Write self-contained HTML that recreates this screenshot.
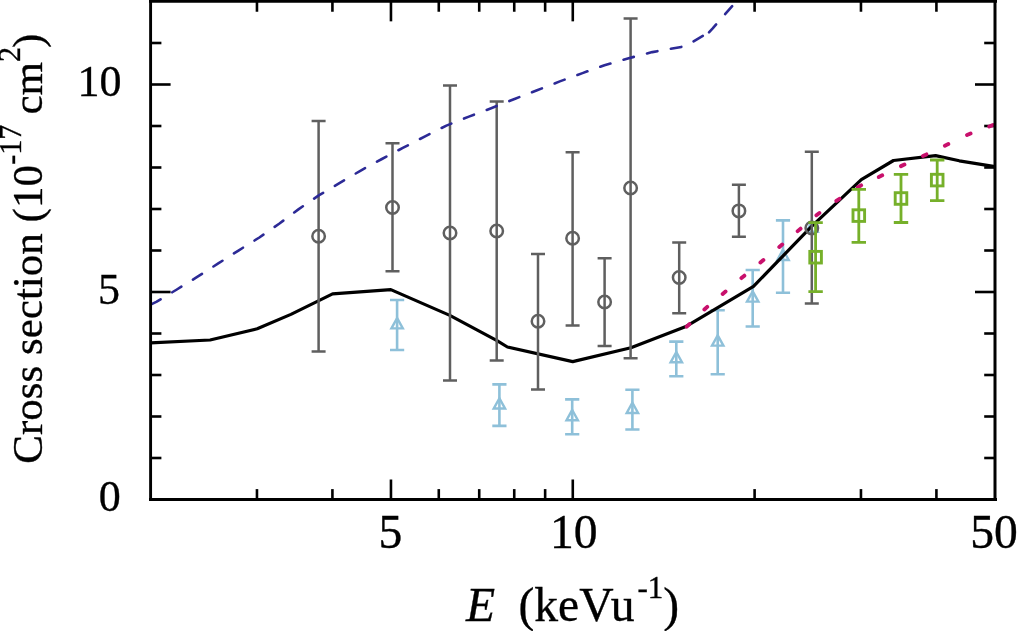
<!DOCTYPE html>
<html><head><meta charset="utf-8"><style>
html,body{margin:0;padding:0;background:#fff;width:1017px;height:631px;overflow:hidden;}
svg{display:block;will-change:transform;}
</style></head><body>
<svg width="1017" height="631" viewBox="0 0 1017 631">
<rect width="1017" height="631" fill="#fff"/>
<g stroke="#000" stroke-width="2.6" fill="none">
<line x1="150.6" y1="499.50" x2="170.6" y2="499.50"/>
<line x1="995" y1="499.50" x2="975" y2="499.50"/>
<line x1="150.6" y1="458.00" x2="161.4" y2="458.00"/>
<line x1="995" y1="458.00" x2="984.2" y2="458.00"/>
<line x1="150.6" y1="416.50" x2="161.4" y2="416.50"/>
<line x1="995" y1="416.50" x2="984.2" y2="416.50"/>
<line x1="150.6" y1="375.00" x2="161.4" y2="375.00"/>
<line x1="995" y1="375.00" x2="984.2" y2="375.00"/>
<line x1="150.6" y1="333.50" x2="161.4" y2="333.50"/>
<line x1="995" y1="333.50" x2="984.2" y2="333.50"/>
<line x1="150.6" y1="292.00" x2="170.6" y2="292.00"/>
<line x1="995" y1="292.00" x2="975" y2="292.00"/>
<line x1="150.6" y1="250.50" x2="161.4" y2="250.50"/>
<line x1="995" y1="250.50" x2="984.2" y2="250.50"/>
<line x1="150.6" y1="209.00" x2="161.4" y2="209.00"/>
<line x1="995" y1="209.00" x2="984.2" y2="209.00"/>
<line x1="150.6" y1="167.50" x2="161.4" y2="167.50"/>
<line x1="995" y1="167.50" x2="984.2" y2="167.50"/>
<line x1="150.6" y1="126.00" x2="161.4" y2="126.00"/>
<line x1="995" y1="126.00" x2="984.2" y2="126.00"/>
<line x1="150.6" y1="84.50" x2="170.6" y2="84.50"/>
<line x1="995" y1="84.50" x2="975" y2="84.50"/>
<line x1="150.6" y1="43.00" x2="161.4" y2="43.00"/>
<line x1="995" y1="43.00" x2="984.2" y2="43.00"/>
<line x1="256.96" y1="499.5" x2="256.96" y2="489.1"/>
<line x1="256.96" y1="1.35" x2="256.96" y2="11.75"/>
<line x1="332.42" y1="499.5" x2="332.42" y2="489.1"/>
<line x1="332.42" y1="1.35" x2="332.42" y2="11.75"/>
<line x1="390.96" y1="499.5" x2="390.96" y2="479.5"/>
<line x1="390.96" y1="1.35" x2="390.96" y2="21.35"/>
<line x1="438.78" y1="499.5" x2="438.78" y2="489.1"/>
<line x1="438.78" y1="1.35" x2="438.78" y2="11.75"/>
<line x1="479.22" y1="499.5" x2="479.22" y2="489.1"/>
<line x1="479.22" y1="1.35" x2="479.22" y2="11.75"/>
<line x1="514.24" y1="499.5" x2="514.24" y2="489.1"/>
<line x1="514.24" y1="1.35" x2="514.24" y2="11.75"/>
<line x1="545.14" y1="499.5" x2="545.14" y2="489.1"/>
<line x1="545.14" y1="1.35" x2="545.14" y2="11.75"/>
<line x1="572.78" y1="499.5" x2="572.78" y2="479.5"/>
<line x1="572.78" y1="1.35" x2="572.78" y2="21.35"/>
<line x1="754.60" y1="499.5" x2="754.60" y2="489.1"/>
<line x1="754.60" y1="1.35" x2="754.60" y2="11.75"/>
<line x1="860.96" y1="499.5" x2="860.96" y2="489.1"/>
<line x1="860.96" y1="1.35" x2="860.96" y2="11.75"/>
<line x1="936.42" y1="499.5" x2="936.42" y2="489.1"/>
<line x1="936.42" y1="1.35" x2="936.42" y2="11.75"/>
</g>
<path d="M397.1,300V350M390.00,300H404.20M390.00,350H404.20" stroke="#8ec0d9" stroke-width="2.6" fill="none"/>
<polygon points="397.1,318.10 391.40,328.40 402.80,328.40" fill="none" stroke="#8ec0d9" stroke-width="2.4"/>
<path d="M499.4,384.4V425.9M492.30,384.4H506.50M492.30,425.9H506.50" stroke="#8ec0d9" stroke-width="2.6" fill="none"/>
<polygon points="499.4,398.25 493.70,408.55 505.10,408.55" fill="none" stroke="#8ec0d9" stroke-width="2.4"/>
<path d="M572.2,399.4V434.2M565.10,399.4H579.30M565.10,434.2H579.30" stroke="#8ec0d9" stroke-width="2.6" fill="none"/>
<polygon points="572.2,409.90 566.50,420.20 577.90,420.20" fill="none" stroke="#8ec0d9" stroke-width="2.4"/>
<path d="M632.4,389.7V429.5M625.30,389.7H639.50M625.30,429.5H639.50" stroke="#8ec0d9" stroke-width="2.6" fill="none"/>
<polygon points="632.4,402.70 626.70,413.00 638.10,413.00" fill="none" stroke="#8ec0d9" stroke-width="2.4"/>
<path d="M676.3,341.6V376.2M669.20,341.6H683.40M669.20,376.2H683.40" stroke="#8ec0d9" stroke-width="2.6" fill="none"/>
<polygon points="676.3,352.00 670.60,362.30 682.00,362.30" fill="none" stroke="#8ec0d9" stroke-width="2.4"/>
<path d="M717.7,310.3V374.2M710.60,310.3H724.80M710.60,374.2H724.80" stroke="#8ec0d9" stroke-width="2.6" fill="none"/>
<polygon points="717.7,335.35 712.00,345.65 723.40,345.65" fill="none" stroke="#8ec0d9" stroke-width="2.4"/>
<path d="M752.7,270V326.5M745.60,270H759.80M745.60,326.5H759.80" stroke="#8ec0d9" stroke-width="2.6" fill="none"/>
<polygon points="752.7,291.35 747.00,301.65 758.40,301.65" fill="none" stroke="#8ec0d9" stroke-width="2.4"/>
<path d="M783,220.4V292.7M775.90,220.4H790.10M775.90,292.7H790.10" stroke="#8ec0d9" stroke-width="2.6" fill="none"/>
<polygon points="783,249.65 777.30,259.95 788.70,259.95" fill="none" stroke="#8ec0d9" stroke-width="2.4"/>
<polygon points="812,221.40 806.30,231.70 817.70,231.70" fill="none" stroke="#8ec0d9" stroke-width="2.4"/>
<polyline fill="none" stroke="#000" stroke-width="3.2" stroke-linejoin="round" points="150.60,342.80 210.10,340.00 257.20,328.80 290.90,314.40 332.60,293.90 390.80,289.60 449.80,315.40 497.00,340.60 507.40,347.00 572.70,361.60 630.90,347.80 685.30,326.80 753.50,286.40 811.60,226.40 861.30,179.60 893.50,160.50 935.60,155.60 959.30,160.80 995.00,166.60"/>
<path d="M318.6,121V351.6M311.60,121H325.60M311.60,351.6H325.60" stroke="#5f5f5f" stroke-width="2.5" fill="none"/>
<circle cx="318.6" cy="236.2" r="6.25" fill="none" stroke="#5f5f5f" stroke-width="2.5"/>
<path d="M392.5,143.2V271.3M385.50,143.2H399.50M385.50,271.3H399.50" stroke="#5f5f5f" stroke-width="2.5" fill="none"/>
<circle cx="392.5" cy="207.5" r="6.25" fill="none" stroke="#5f5f5f" stroke-width="2.5"/>
<path d="M450,85.6V380.4M443.00,85.6H457.00M443.00,380.4H457.00" stroke="#5f5f5f" stroke-width="2.5" fill="none"/>
<circle cx="450" cy="233.0" r="6.25" fill="none" stroke="#5f5f5f" stroke-width="2.5"/>
<path d="M496.7,101.5V360.5M489.70,101.5H503.70M489.70,360.5H503.70" stroke="#5f5f5f" stroke-width="2.5" fill="none"/>
<circle cx="496.7" cy="231.0" r="6.25" fill="none" stroke="#5f5f5f" stroke-width="2.5"/>
<path d="M538,253.9V389.6M531.00,253.9H545.00M531.00,389.6H545.00" stroke="#5f5f5f" stroke-width="2.5" fill="none"/>
<circle cx="538" cy="321.2" r="6.25" fill="none" stroke="#5f5f5f" stroke-width="2.5"/>
<path d="M572.6,152.2V325.4M565.60,152.2H579.60M565.60,325.4H579.60" stroke="#5f5f5f" stroke-width="2.5" fill="none"/>
<circle cx="572.6" cy="238.3" r="6.25" fill="none" stroke="#5f5f5f" stroke-width="2.5"/>
<path d="M604.6,258.3V346.1M597.60,258.3H611.60M597.60,346.1H611.60" stroke="#5f5f5f" stroke-width="2.5" fill="none"/>
<circle cx="604.6" cy="302" r="6.25" fill="none" stroke="#5f5f5f" stroke-width="2.5"/>
<path d="M630.6,18.4V358.2M623.60,18.4H637.60M623.60,358.2H637.60" stroke="#5f5f5f" stroke-width="2.5" fill="none"/>
<circle cx="630.6" cy="188.0" r="6.25" fill="none" stroke="#5f5f5f" stroke-width="2.5"/>
<path d="M679.2,242.4V313.3M672.20,242.4H686.20M672.20,313.3H686.20" stroke="#5f5f5f" stroke-width="2.5" fill="none"/>
<circle cx="679.2" cy="277.5" r="6.25" fill="none" stroke="#5f5f5f" stroke-width="2.5"/>
<path d="M738.9,184.7V236.8M731.90,184.7H745.90M731.90,236.8H745.90" stroke="#5f5f5f" stroke-width="2.5" fill="none"/>
<circle cx="738.9" cy="210.9" r="6.25" fill="none" stroke="#5f5f5f" stroke-width="2.5"/>
<path d="M811.8,151.7V303.6M804.80,151.7H818.80M804.80,303.6H818.80" stroke="#5f5f5f" stroke-width="2.5" fill="none"/>
<circle cx="811.8" cy="228" r="6.25" fill="none" stroke="#5f5f5f" stroke-width="2.5"/>
<polyline fill="none" stroke="#2c2a96" stroke-width="2.6" stroke-linecap="round" stroke-linejoin="round" stroke-dasharray="10.66 13.64" stroke-dashoffset="0.45" points="151.60,304.15 156.30,301.85 176.85,289.50 197.20,276.90 218.25,263.45 238.45,250.55 259.35,237.50 279.15,223.75 298.75,209.10 318.75,195.40 339.40,183.20 360.75,170.55 381.90,159.00 402.80,147.95 424.60,136.55 446.40,125.60 468.90,116.60 491.80,108.00 514.50,99.00 537.10,90.25 559.80,81.40 582.50,73.10 604.50,65.25 628.70,58.20 652.30,52.10 685.30,46.20 709.00,32.30"/>
<polyline fill="none" stroke="#2c2a96" stroke-width="2.6" stroke-linecap="round" stroke-linejoin="round" stroke-dasharray="10.66 13.63" points="709.00,32.30 712.70,28.35 728.65,10.05 740.00,-2.50"/>
<path d="M686.74,326.72L689.46,324.08M704.39,309.48L707.21,306.92M722.65,293.93L725.55,291.47M741.44,278.11L744.36,275.69M760.43,262.51L763.37,260.09M779.30,246.98L782.20,244.52M797.65,231.13L800.55,228.67M816.40,215.26L819.40,212.94M836.32,200.96L839.48,198.84M857.84,187.22L861.16,185.38M878.79,177.03L882.21,175.37M900.98,166.12L904.42,164.48M922.98,156.00L926.42,154.40M944.88,145.72L948.32,144.08M967.05,134.95L970.55,133.45M989.22,126.47L992.78,125.13" stroke="#c8106c" stroke-width="3.9" stroke-linecap="round" fill="none"/>
<path d="M815.6,222.6V291.6M808.40,222.6H822.80M808.40,291.6H822.80" stroke="#76b02a" stroke-width="2.8" fill="none"/>
<rect x="809.80" y="251.40" width="11.6" height="11.6" fill="none" stroke="#76b02a" stroke-width="2.9"/>
<path d="M858.8,189.3V242.3M851.60,189.3H866.00M851.60,242.3H866.00" stroke="#76b02a" stroke-width="2.8" fill="none"/>
<rect x="853.00" y="209.80" width="11.6" height="11.6" fill="none" stroke="#76b02a" stroke-width="2.9"/>
<path d="M901,174.3V222.5M893.80,174.3H908.20M893.80,222.5H908.20" stroke="#76b02a" stroke-width="2.8" fill="none"/>
<rect x="895.20" y="192.70" width="11.6" height="11.6" fill="none" stroke="#76b02a" stroke-width="2.9"/>
<path d="M937.2,160V200.6M930.00,160H944.40M930.00,200.6H944.40" stroke="#76b02a" stroke-width="2.8" fill="none"/>
<rect x="931.40" y="174.30" width="11.6" height="11.6" fill="none" stroke="#76b02a" stroke-width="2.9"/>
<g stroke="#000" fill="none">
<line x1="150.6" y1="0" x2="150.6" y2="501" stroke-width="2.9"/>
<line x1="995" y1="0" x2="995" y2="501" stroke-width="3"/>
<line x1="149" y1="1.35" x2="997" y2="1.35" stroke-width="2.7"/>
<line x1="149" y1="499.5" x2="997" y2="499.5" stroke-width="2.8"/>
</g>
<g font-family="&quot;Liberation Serif&quot;, serif" fill="#000" stroke="#000" stroke-width="0.35">
<text x="98.65" y="511.20" font-size="44">0</text>
<text x="97.9" y="303.70" font-size="44">5</text>
<text x="77.55" y="96.20" font-size="44">10</text>
<text x="378.4" y="547.8" font-size="47.6">5</text>
<text x="549.96" y="547.8" font-size="47.6">10</text>
<text x="970.3" y="547.8" font-size="47.6">50</text>
<text x="466" y="621" font-size="47.6" font-style="italic">E</text>
<text x="518.4" y="621" font-size="47.6">(keVu</text>
<text x="637.4" y="597.7" font-size="31">-1</text>
<text x="663.2" y="621" font-size="47.6">)</text>
<g transform="translate(42.1,463.7) rotate(-90)">
<text x="0" y="0" font-size="43">Cross section (10</text>
<text transform="translate(299,-20.6) scale(1,1.06)" font-size="30">-17</text>
<text x="349.2" y="0" font-size="43">cm</text>
<text transform="translate(401.6,-22) scale(1,1.06)" font-size="30">2</text>
<text x="415.7" y="0" font-size="43">)</text>
</g>
</g>
</svg>
</body></html>
